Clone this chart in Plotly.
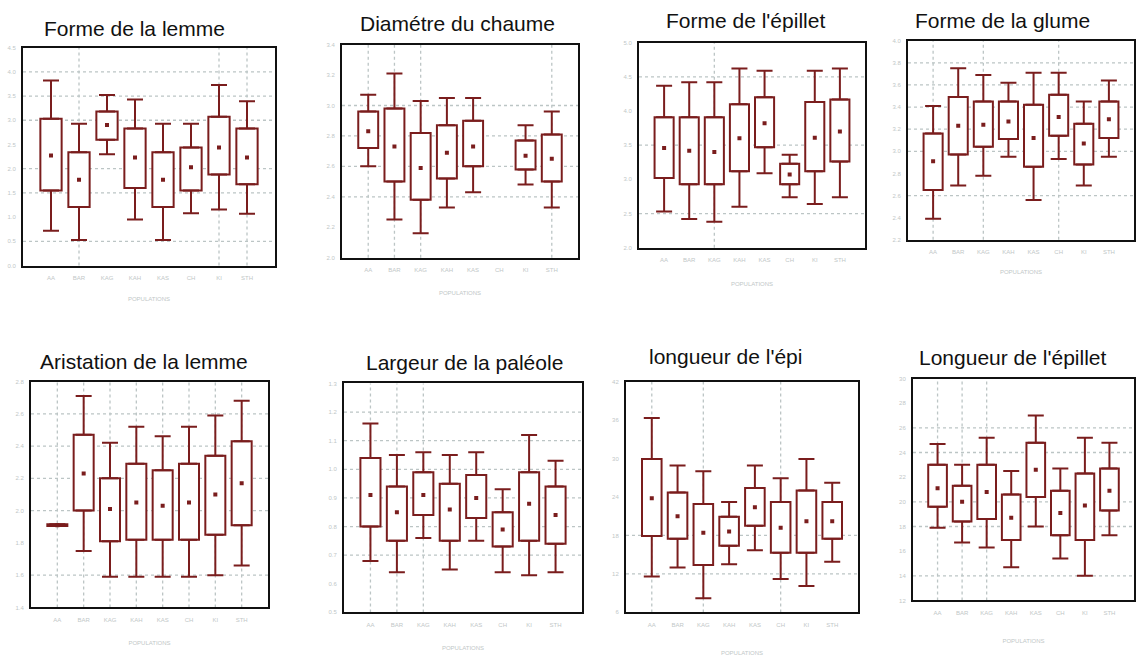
import plotly.graph_objects as go

populations = ["AA", "BAR", "KAG", "KAH", "KAS", "CH", "KI", "STH"]

# Each panel: upper whisker, box top, mean, box bottom, lower whisker (per population)
lemme_hi = [3.82, 2.93, 3.52, 3.43, 2.93, 2.93, 3.73, 3.39]
lemme_q3 = [3.03, 2.34, 3.18, 2.83, 2.34, 2.44, 3.07, 2.83]
lemme_mean = [2.27, 1.77, 2.90, 2.23, 1.77, 2.03, 2.44, 2.23]
lemme_q1 = [1.55, 1.21, 2.60, 1.60, 1.21, 1.55, 1.88, 1.68]
lemme_lo = [0.72, 0.53, 2.30, 0.95, 0.53, 1.08, 1.16, 1.07]
lemme_ticks = [0.0, 0.5, 1.0, 1.5, 2.0, 2.5, 3.0, 3.5, 4.0, 4.5]

chaume_hi = [3.07, 3.21, 3.03, 3.05, 3.05, None, 2.87, 2.96]
chaume_q3 = [2.96, 2.98, 2.82, 2.87, 2.90, None, 2.77, 2.81]
chaume_mean = [2.83, 2.73, 2.59, 2.69, 2.73, None, 2.67, 2.65]
chaume_q1 = [2.72, 2.50, 2.38, 2.52, 2.60, None, 2.58, 2.50]
chaume_lo = [2.60, 2.25, 2.16, 2.33, 2.43, None, 2.48, 2.33]
chaume_ticks = [2.0, 2.2, 2.4, 2.6, 2.8, 3.0, 3.2, 3.4]

epillet_hi = [4.37, 4.42, 4.42, 4.62, 4.59, 3.36, 4.59, 4.62]
epillet_q3 = [3.91, 3.91, 3.91, 4.10, 4.20, 3.23, 4.13, 4.17]
epillet_mean = [3.46, 3.42, 3.40, 3.60, 3.82, 3.07, 3.61, 3.70]
epillet_q1 = [3.02, 2.93, 2.93, 3.12, 3.47, 2.93, 3.12, 3.26]
epillet_lo = [2.53, 2.42, 2.38, 2.60, 3.09, 2.74, 2.64, 2.74]
epillet_ticks = [2.0, 2.5, 3.0, 3.5, 4.0, 4.5, 5.0]

glume_hi = [3.41, 3.75, 3.69, 3.62, 3.71, 3.71, 3.45, 3.64]
glume_q3 = [3.16, 3.49, 3.45, 3.45, 3.42, 3.51, 3.25, 3.45]
glume_mean = [2.91, 3.23, 3.24, 3.27, 3.12, 3.31, 3.07, 3.29]
glume_q1 = [2.65, 2.97, 3.04, 3.11, 2.86, 3.14, 2.88, 3.12]
glume_lo = [2.39, 2.69, 2.78, 2.95, 2.56, 2.93, 2.69, 2.95]
glume_ticks = [2.2, 2.4, 2.6, 2.8, 3.0, 3.2, 3.4, 3.6, 3.8, 4.0]

arist_hi = [1.915, 2.71, 2.42, 2.52, 2.46, 2.52, 2.59, 2.68]
arist_q3 = [1.915, 2.47, 2.20, 2.29, 2.25, 2.29, 2.34, 2.43]
arist_mean = [1.91, 2.23, 2.01, 2.05, 2.03, 2.05, 2.10, 2.17]
arist_q1 = [1.905, 2.00, 1.81, 1.82, 1.82, 1.82, 1.85, 1.91]
arist_lo = [1.905, 1.75, 1.59, 1.59, 1.59, 1.59, 1.60, 1.66]
arist_ticks = [1.4, 1.6, 1.8, 2.0, 2.2, 2.4, 2.6, 2.8]

paleole_hi = [1.16, 1.05, 1.06, 1.05, 1.06, 0.93, 1.12, 1.03]
paleole_q3 = [1.04, 0.94, 0.99, 0.95, 0.98, 0.85, 0.99, 0.94]
paleole_mean = [0.91, 0.85, 0.91, 0.86, 0.90, 0.79, 0.88, 0.84]
paleole_q1 = [0.80, 0.75, 0.84, 0.75, 0.83, 0.73, 0.75, 0.74]
paleole_lo = [0.68, 0.64, 0.76, 0.65, 0.75, 0.64, 0.63, 0.64]
paleole_ticks = [0.5, 0.6, 0.7, 0.8, 0.9, 1.0, 1.1, 1.2, 1.3]

epi_hi = [36.3, 28.9, 28.0, 23.2, 28.9, 26.9, 29.9, 26.2]
epi_q3 = [29.9, 24.7, 22.9, 20.9, 25.4, 23.2, 25.0, 23.2]
epi_mean = [23.8, 21.0, 18.4, 18.6, 22.4, 19.2, 20.2, 20.2]
epi_q1 = [17.9, 17.5, 13.4, 16.4, 19.5, 15.3, 15.3, 17.5]
epi_lo = [11.6, 13.0, 8.2, 13.5, 15.7, 11.2, 10.1, 13.9]
epi_ticks = [6, 12, 18, 24, 30, 36, 42]

lgepillet_hi = [24.7, 23.0, 25.2, 22.5, 27.0, 22.7, 25.2, 24.8]
lgepillet_q3 = [23.0, 21.3, 23.0, 20.6, 24.8, 20.9, 22.3, 22.7]
lgepillet_mean = [21.1, 20.0, 20.8, 18.7, 22.6, 19.1, 19.7, 20.9]
lgepillet_q1 = [19.6, 18.4, 18.6, 16.9, 20.4, 17.3, 16.9, 19.3]
lgepillet_lo = [17.9, 16.7, 16.3, 14.7, 18.0, 15.4, 14.0, 17.3]
lgepillet_ticks = [12, 14, 16, 18, 20, 22, 24, 26, 28, 30]

W, H = 1136, 656
RED = "#7a1d1d"
FAINT = "#bfc7c7"
GRID = "#bcc5c5"

panels = [
    dict(title="Forme de la lemme", stats=(lemme_hi, lemme_q3, lemme_mean, lemme_q1, lemme_lo),
         ticks=lemme_ticks, fmt="{:.1f}", box=(23, 275, 45, 265), tpos=(134, 26), xt=25,
         hgrid=[4.0, 3.5, 3.0, 2.0, 1.5, 0.5], vgrid=["BAR", "KI", "STH"]),
    dict(title="Diamétre du chaume", stats=(chaume_hi, chaume_q3, chaume_mean, chaume_q1, chaume_lo),
         ticks=chaume_ticks, fmt="{:.1f}", box=(342, 578, 42, 257), tpos=(457, 21), xt=27,
         hgrid=[3.0, 2.8, 2.6, 2.4], vgrid=["AA", "BAR", "KAG", "STH"]),
    dict(title="Forme de l'épillet", stats=(epillet_hi, epillet_q3, epillet_mean, epillet_q1, epillet_lo),
         ticks=epillet_ticks, fmt="{:.1f}", box=(639, 865, 40, 247), tpos=(745, 18), xt=28,
         hgrid=[4.5, 3.5, 2.5], vgrid=["KAG"]),
    dict(title="Forme de la glume", stats=(glume_hi, glume_q3, glume_mean, glume_q1, glume_lo),
         ticks=glume_ticks, fmt="{:.1f}", box=(908, 1134, 38, 239), tpos=(1002, 18), xt=24,
         hgrid=[3.8, 3.6, 3.4, 3.2, 3.0, 2.6], vgrid=["AA", "KAG", "CH"]),
    dict(title="Aristation de la lemme", stats=(arist_hi, arist_q3, arist_mean, arist_q1, arist_lo),
         ticks=arist_ticks, fmt="{:.1f}", box=(31, 268, 382, 610), tpos=(144, 362), xt=27,
         hgrid=[2.6, 2.4, 2.2, 2.0, 1.6], vgrid=populations),
    dict(title="Largeur de la paléole", stats=(paleole_hi, paleole_q3, paleole_mean, paleole_q1, paleole_lo),
         ticks=paleole_ticks, fmt="{:.1f}", box=(344, 582, 384, 615), tpos=(464, 363), xt=27,
         hgrid=[1.2, 1.1, 1.0, 0.9, 0.8, 0.7], vgrid=["AA", "BAR", "KAG"]),
    dict(title="longueur de l'épi", stats=(epi_hi, epi_q3, epi_mean, epi_q1, epi_lo),
         ticks=epi_ticks, fmt="{:d}", box=(626, 858, 382, 615), tpos=(725, 357), xt=32,
         hgrid=[18, 12], vgrid=["AA", "KAG", "CH"]),
    dict(title="Longueur de l'épillet", stats=(lgepillet_hi, lgepillet_q3, lgepillet_mean, lgepillet_q1, lgepillet_lo),
         ticks=lgepillet_ticks, fmt="{:d}", box=(913, 1134, 379, 603), tpos=(1012, 358), xt=32,
         hgrid=[26, 24, 20, 18, 14], vgrid=["AA", "BAR", "KAG"]),
]


def diff(a, b):
    return [None if (x is None or y is None) else x - y for x, y in zip(a, b)]


fig = go.Figure()
layout = dict(
    width=W, height=H, margin=dict(l=0, r=0, t=0, b=0),
    paper_bgcolor="white", plot_bgcolor="white", showlegend=False,
    annotations=[], shapes=[],
)

for i, p in enumerate(panels, start=1):
    xa = "x" if i == 1 else f"x{i}"
    ya = "y" if i == 1 else f"y{i}"
    hi, q3, mean, q1, lo = p["stats"]
    # box body (between the box bottom and box top)
    fig.add_trace(go.Bar(
        x=populations, y=diff(q3, q1), base=q1, width=0.76,
        marker=dict(color="white", line=dict(color=RED, width=2)),
        xaxis=xa, yaxis=ya, hoverinfo="skip",
    ))
    # upper whisker
    fig.add_trace(go.Scatter(
        x=populations, y=q3, mode="markers", marker=dict(size=0.1, color=RED),
        error_y=dict(type="data", symmetric=False, array=diff(hi, q3),
                     arrayminus=[0] * len(q3), color=RED, thickness=2, width=8),
        xaxis=xa, yaxis=ya, hoverinfo="skip",
    ))
    # lower whisker
    fig.add_trace(go.Scatter(
        x=populations, y=q1, mode="markers", marker=dict(size=0.1, color=RED),
        error_y=dict(type="data", symmetric=False, array=[0] * len(q1),
                     arrayminus=diff(q1, lo), color=RED, thickness=2, width=8),
        xaxis=xa, yaxis=ya, hoverinfo="skip",
    ))
    # mean point
    fig.add_trace(go.Scatter(
        x=populations, y=mean, mode="markers",
        marker=dict(symbol="square", size=4, color=RED),
        xaxis=xa, yaxis=ya,
    ))

    x0, x1, top, bottom = p["box"]
    key_x = "xaxis" if i == 1 else f"xaxis{i}"
    key_y = "yaxis" if i == 1 else f"yaxis{i}"
    layout[key_x] = dict(
        domain=[x0 / W, x1 / W], anchor=ya, type="category",
        categoryorder="array", categoryarray=populations, range=[-1, 8],
        showgrid=False, zeroline=False, showline=True, mirror=True,
        linecolor="#111111", linewidth=2, ticks="", ticklabelstandoff=5,
        tickfont=dict(size=6, color=FAINT, family="Liberation Sans"),
        title=dict(text="POPULATIONS", standoff=p["xt"] - 8,
                   font=dict(size=6, color=FAINT, family="Liberation Sans")),
    )
    layout[key_y] = dict(
        domain=[1 - bottom / H, 1 - top / H], anchor=xa,
        range=[p["ticks"][0], p["ticks"][-1]],
        tickvals=p["ticks"], ticktext=[p["fmt"].format(t) for t in p["ticks"]],
        showgrid=False, zeroline=False, showline=True, mirror=True,
        linecolor="#111111", linewidth=2, ticks="", ticklabelstandoff=4,
        tickfont=dict(size=6, color=FAINT, family="Liberation Sans"),
    )
    for g in p["hgrid"]:
        layout["shapes"].append(dict(
            type="line", xref=f"{xa} domain", yref=ya, x0=0, x1=1, y0=g, y1=g,
            line=dict(color=GRID, width=1.3, dash="dot"), layer="below"))
    for c in p["vgrid"]:
        layout["shapes"].append(dict(
            type="line", xref=xa, yref=f"{ya} domain", x0=c, x1=c, y0=0, y1=1,
            line=dict(color=GRID, width=1.3, dash="dot"), layer="below"))
    tx, ty = p["tpos"]
    layout["annotations"].append(dict(
        text=p["title"], x=tx / W, y=1 - ty / H, xref="paper", yref="paper",
        xanchor="center", yanchor="middle", showarrow=False,
        font=dict(size=21, color="#111111", family="Liberation Sans"),
    ))

fig.update_layout(**layout)
fig.write_html("out.html")
